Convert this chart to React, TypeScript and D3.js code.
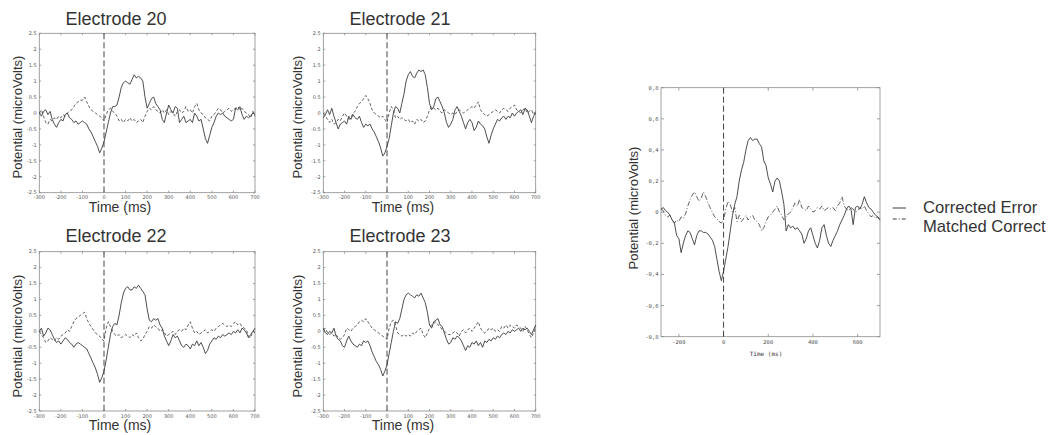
import React from "react";
import * as d3 from "d3";

// ---------- data ----------
const TIMES_SMALL = d3.range(-300, 701, 10);
const TIMES_BIG = d3.range(-280, 701, 10);

const SMALL_X_TICKS = [-300, -200, -100, 0, 100, 200, 300, 400, 500, 600, 700];
const SMALL_Y_TICKS = [-2.5, -2, -1.5, -1, -0.5, 0, 0.5, 1, 1.5, 2, 2.5];
const BIG_X_TICKS = [-200, 0, 200, 400, 600];
const BIG_Y_TICKS = [-0.8, -0.6, -0.4, -0.2, 0, 0.2, 0.4, 0.6, 0.8];

const ELECTRODES = ["Electrode 20", "Electrode 21", "Electrode 22", "Electrode 23"];
const LEGEND = ["Corrected Error", "Matched Correct"];

const E20_CE = [
  0.0, -0.1, 0.05, 0.1, -0.05, 0.05, -0.2, -0.35, -0.45, -0.3,
  -0.2, -0.25, -0.05, 0.0, -0.15, -0.2, -0.3, -0.25, -0.35, -0.3,
  -0.25, -0.3, -0.35, -0.5, -0.6, -0.75, -0.9, -1.05, -1.25, -1.1,
  -0.9, -0.6, -0.3, 0.0, 0.2, 0.2, 0.25, 0.5, 0.8, 0.95,
  1.0, 0.95, 0.9, 1.05, 1.2, 1.1, 1.15, 1.1, 1.0, 0.5,
  0.15, 0.3, 0.45, 0.5, 0.3, 0.2, 0.1, -0.2, -0.3, 0.0,
  0.25, 0.1, 0.0, 0.2, 0.15, -0.3, -0.2, -0.1, -0.3, -0.25,
  -0.2, -0.3, 0.0, -0.1, -0.25, -0.2, -0.5, -0.8, -0.95, -0.7,
  -0.45, -0.3, -0.1, 0.0, -0.05, 0.0, -0.1, -0.15, -0.2, -0.25,
  -0.2, 0.15, 0.1, 0.2, -0.05, -0.2, -0.1, -0.15, -0.1, 0.0,
  -0.05,
];
const E20_MC = [
  0.0, 0.1, -0.1, -0.3, -0.35, -0.2, -0.25, -0.15, -0.2, -0.1,
  -0.15, -0.05, -0.1, 0.0, 0.05, 0.1, 0.2, 0.3, 0.35, 0.4,
  0.4, 0.5, 0.35, 0.2, 0.1, 0.05, 0.0, -0.05, -0.1, -0.15,
  -0.25, -0.05, 0.1, 0.15, 0.05, 0.0, -0.1, -0.25, -0.2, -0.3,
  -0.2, -0.25, -0.15, -0.25, -0.2, -0.3, -0.25, -0.2, -0.3, -0.1,
  0.05, 0.15, 0.1, 0.2, 0.1, 0.05, 0.0, 0.1, 0.0, 0.1,
  -0.05, 0.05, 0.0, -0.1, 0.05, 0.1, 0.0, 0.05, 0.2, 0.05,
  0.1, 0.0, 0.2, 0.3, 0.1, 0.0, -0.05, -0.15, -0.2, -0.25,
  -0.1, -0.05, 0.05, 0.15, 0.1, 0.0, 0.05, 0.1, 0.15, 0.05,
  0.1, 0.15, 0.2, 0.1, 0.15, 0.05, 0.0, -0.05, -0.15, 0.05,
  -0.1,
];
const E21_CE = [
  -0.15, -0.05, 0.1, -0.05, 0.15, -0.1, -0.3, -0.5, -0.35, -0.3,
  -0.25, -0.35, -0.1, -0.2, -0.05, -0.15, -0.2, -0.1, -0.3, -0.45,
  -0.35, -0.4, -0.35, -0.5, -0.6, -0.75, -0.9, -1.1, -1.35, -1.25,
  -1.05, -0.8, -0.4, 0.0, 0.2, 0.15, 0.0, 0.3, 0.6, 1.0,
  1.2, 1.3, 1.15, 1.1, 1.25, 1.35, 1.3, 1.35, 1.2, 0.8,
  0.3, 0.1, 0.2, 0.45, 0.5, 0.35, 0.2, 0.0, -0.3, -0.45,
  -0.35, -0.2, 0.1, 0.2, 0.05, -0.1, -0.3, -0.5, -0.3, -0.2,
  -0.3, -0.55, -0.45, -0.25, -0.35, -0.4, -0.5, -0.75, -0.95, -0.7,
  -0.5, -0.35, -0.2, -0.25, -0.15, -0.1, -0.2, -0.1, -0.15, 0.0,
  -0.1, 0.0, 0.05, 0.1, -0.05, 0.15, 0.1, -0.1, -0.3, -0.1,
  0.0,
];
const E21_MC = [
  0.0, -0.1, -0.2, -0.3, -0.2, -0.35, -0.3, -0.2, -0.25, -0.1,
  0.0, -0.1, -0.2, -0.15, 0.0, 0.05, 0.2, 0.3, 0.35, 0.45,
  0.55, 0.45, 0.3, 0.1, 0.0, -0.05, -0.1, -0.15, -0.1, -0.2,
  -0.3, 0.0, 0.2, 0.1, -0.15, -0.1, -0.2, -0.15, -0.2, -0.25,
  -0.2, -0.3, -0.25, -0.35, -0.2, -0.25, -0.2, -0.3, -0.25, -0.1,
  0.1, 0.2, 0.15, 0.1, 0.15, 0.05, 0.0, 0.1, 0.05, 0.0,
  -0.05, 0.0, -0.05, 0.05, 0.1, 0.05, 0.0, 0.05, 0.1, 0.15,
  0.2, 0.15, 0.25, 0.35, 0.1, 0.0, -0.05, -0.1, -0.05, 0.0,
  0.05, 0.1, 0.05, 0.0, 0.1, 0.15, 0.1, 0.05, 0.15, 0.2,
  0.25, 0.1, 0.05, 0.0, 0.1, 0.15, 0.0, 0.05, 0.1, -0.05,
  0.05,
];
const E22_CE = [
  0.0, 0.1, -0.15, -0.05, 0.1, 0.05, -0.1, -0.25, -0.35, -0.3,
  -0.4, -0.3, -0.2, -0.25, -0.35, -0.4, -0.5, -0.4, -0.35, -0.4,
  -0.45, -0.5, -0.55, -0.7, -0.85, -1.0, -1.15, -1.35, -1.6, -1.45,
  -1.25, -0.9, -0.5, -0.1, 0.15, 0.25, 0.2, 0.5, 0.9, 1.2,
  1.35, 1.4, 1.3, 1.3, 1.4, 1.35, 1.45, 1.35, 1.25, 1.15,
  0.7, 0.35, 0.3, 0.4, 0.35, 0.4, 0.2, 0.1, -0.15, -0.3,
  -0.45, -0.3, -0.1, -0.2, -0.15, -0.3, -0.45, -0.5, -0.4, -0.45,
  -0.55, -0.4, -0.45, -0.3, -0.45, -0.35, -0.5, -0.7, -0.6, -0.4,
  -0.3, -0.2, -0.25, -0.15, -0.2, -0.1, -0.15, -0.1, -0.05, -0.1,
  0.0, -0.05, 0.05, -0.05, 0.1, 0.05, -0.05, -0.2, -0.1, 0.0,
  0.1,
];
const E22_MC = [
  0.0, -0.1, -0.2, -0.35, -0.3, -0.2, -0.25, -0.3, -0.2, -0.25,
  -0.15, -0.1, -0.05, 0.05, 0.0, 0.15, 0.3, 0.4, 0.45, 0.5,
  0.55, 0.6, 0.4, 0.25, 0.15, 0.05, -0.05, -0.1, -0.15, -0.25,
  -0.3, 0.1, 0.3, 0.15, 0.0, -0.1, -0.15, -0.1, -0.2, -0.15,
  -0.1, -0.15, -0.2, -0.1, -0.15, -0.05, -0.2, -0.3, -0.25, -0.1,
  0.0, 0.15, 0.1, 0.2, 0.15, 0.1, 0.0, 0.05, -0.05, -0.15,
  -0.1, -0.05, 0.0, -0.1, 0.0, 0.05, 0.0, 0.1, 0.05, 0.2,
  0.3, 0.1, -0.05, 0.0, -0.1, -0.05, 0.0, 0.05, -0.05, 0.0,
  0.05, 0.0, 0.1, 0.15, 0.2, 0.25, 0.2, 0.15, 0.2, 0.15,
  0.25, 0.3, 0.2, 0.25, 0.15, 0.1, 0.05, -0.15, -0.2, 0.0,
  -0.05,
];
const E23_CE = [
  0.1, -0.05, -0.1, 0.0, -0.05, 0.1, -0.15, -0.25, -0.3, -0.45,
  -0.5, -0.3, -0.15, -0.3, -0.4, -0.45, -0.5, -0.4, -0.45, -0.3,
  -0.35, -0.3, -0.45, -0.65, -0.8, -0.95, -1.05, -1.2, -1.4, -1.25,
  -1.05, -0.7, -0.35, 0.0, 0.3, 0.25, 0.4, 0.7, 1.0, 1.15,
  1.2, 1.15, 1.1, 1.05, 1.15, 1.1, 1.2, 1.05, 0.9, 0.6,
  0.2, 0.1, 0.3, 0.35, 0.4, 0.2, 0.15, -0.05, -0.25, -0.4,
  -0.35, -0.2, -0.25, -0.15, -0.2, -0.3, -0.45, -0.6, -0.45, -0.5,
  -0.35, -0.4, -0.3, -0.45, -0.35, -0.5, -0.3, -0.35, -0.25, -0.3,
  -0.2, -0.25, -0.15, -0.2, -0.1, -0.05, -0.1, 0.0, -0.05, 0.05,
  0.0, 0.05, 0.1, 0.0, 0.1, 0.05, 0.1, 0.0, -0.1, 0.05,
  0.2,
];
const E23_MC = [
  0.05, 0.1, -0.05, -0.1, -0.05, -0.15, -0.1, -0.2, -0.25, -0.2,
  -0.1, 0.1, 0.05, 0.0, 0.1, 0.15, 0.2, 0.3, 0.35, 0.3,
  0.4, 0.3, 0.2, 0.1, 0.05, 0.0, -0.05, -0.1, -0.15, -0.2,
  -0.25, 0.1, 0.3, 0.35, 0.2, -0.05, -0.1, -0.15, -0.1, -0.15,
  -0.1, -0.15, -0.05, -0.1, 0.0, 0.05, 0.1, -0.1, -0.2, -0.05,
  0.1, 0.2, 0.25, 0.3, 0.2, 0.15, 0.05, 0.0, -0.05, -0.1,
  -0.1, -0.05, 0.0, -0.05, -0.15, 0.0, 0.05, -0.05, 0.05, 0.1,
  0.0, 0.1, 0.2, 0.3, 0.1, 0.0, -0.05, 0.0, 0.1, 0.05,
  0.1, 0.0, 0.05, 0.0, 0.15, 0.1, 0.2, 0.1, 0.2, 0.15,
  0.1, 0.2, 0.15, 0.1, 0.0, 0.15, 0.05, -0.1, -0.2, -0.05,
  0.15,
];
const AVG_CE = [
  0.02, 0.03, 0.01, 0.0, -0.02, -0.05, -0.07, -0.15, -0.17,
  -0.26, -0.2, -0.15, -0.12, -0.13, -0.17, -0.21, -0.15, -0.12, -0.12,
  -0.13, -0.13, -0.14, -0.16, -0.18, -0.22, -0.3, -0.38, -0.44,
  -0.38, -0.3, -0.22, -0.12, -0.02, 0.05, 0.1, 0.2, 0.27, 0.32,
  0.4, 0.46, 0.48, 0.46, 0.47, 0.47, 0.44, 0.42, 0.33, 0.3,
  0.22, 0.18, 0.13, 0.2, 0.22, 0.2, 0.13, 0.05, -0.12, -0.08,
  -0.1, -0.09, -0.11, -0.1, -0.12, -0.14, -0.2, -0.17, -0.12, -0.1,
  -0.15, -0.2, -0.23, -0.18, -0.1, -0.08, -0.15, -0.2, -0.22, -0.18,
  -0.15, -0.12, -0.08, -0.05, -0.02, 0.02, 0.04, 0.02, -0.08, 0.03,
  0.04, 0.02, 0.05, 0.1, 0.06, 0.03, 0.02, 0.0, -0.02, -0.03,
  -0.05,
];
const AVG_MC = [
  0.02, 0.01, -0.02, -0.03, -0.02, -0.05, -0.07, -0.05, -0.06,
  -0.03, -0.04, -0.01, 0.04, 0.08, 0.11, 0.13, 0.1, 0.07, 0.09,
  0.13, 0.1, 0.06, 0.03, 0.0, -0.03, -0.04, -0.06, -0.07,
  -0.05, 0.02, 0.07, 0.05, 0.0, 0.03, -0.06, -0.02, -0.06, -0.04,
  -0.02, -0.05, -0.03, -0.02, -0.05, -0.06, -0.08, -0.12, -0.1, -0.06,
  -0.03, -0.02, 0.0, 0.02, 0.04, 0.0, -0.02, -0.05, -0.03, -0.01,
  0.0, 0.03, 0.06, 0.04, 0.08, 0.03, 0.02, 0.01, 0.04, 0.02,
  0.0, 0.01, 0.03, 0.02, 0.04, 0.01, 0.02, 0.03, 0.02, 0.03,
  0.01, 0.04, 0.06, 0.1, 0.04, 0.02, 0.01, 0.03, 0.02, 0.0,
  0.01, 0.03, 0.02, 0.04, 0.01, -0.01, -0.03, -0.02, -0.04, -0.03,
  -0.05,
];

const SMALL_CE = [E20_CE, E21_CE, E22_CE, E23_CE];
const SMALL_MC = [E20_MC, E21_MC, E22_MC, E23_MC];

// ---------- drawing ----------
const LINE = "#3a3a3a";
const AXIS = "#8a8a8a";
const TICKTXT = "#555";
const SANS = "'Liberation Sans', Arial, sans-serif";

type PanelProps = {
  x0: number; x1: number; y0: number; y1: number;
  xDomain: [number, number]; yDomain: [number, number];
  times: number[]; ce: number[]; mc: number[];
  xTicks: number[]; yTicks: number[];
  fmt: (v: number) => string;
  mcDash: string; tickFont: string; tickSize: number; tickLen: number;
};

function Plot(p: PanelProps) {
  const x = d3.scaleLinear().domain(p.xDomain).range([p.x0, p.x1]);
  const y = d3.scaleLinear().domain(p.yDomain).range([p.y1, p.y0]);
  const line = d3
    .line<number>()
    .x((_, i) => x(p.times[i]))
    .y((d) => y(d));
  const t = p.tickLen;
  return (
    <g>
      <rect x={p.x0} y={p.y0} width={p.x1 - p.x0} height={p.y1 - p.y0} fill="white" stroke={AXIS} strokeWidth={0.8} />
      {p.xTicks.map((v) => (
        <g key={"xt" + v}>
          <line x1={x(v)} x2={x(v)} y1={p.y1} y2={p.y1 - t} stroke={AXIS} strokeWidth={0.8} />
          <line x1={x(v)} x2={x(v)} y1={p.y0} y2={p.y0 + t} stroke={AXIS} strokeWidth={0.8} />
          <text x={x(v)} y={p.y1 + p.tickSize + 1.5} textAnchor="middle" fontSize={p.tickSize} fontFamily={p.tickFont} fill={TICKTXT}>
            {p.fmt(v)}
          </text>
        </g>
      ))}
      {p.yTicks.map((v) => (
        <g key={"yt" + v}>
          <line x1={p.x0} x2={p.x0 + t} y1={y(v)} y2={y(v)} stroke={AXIS} strokeWidth={0.8} />
          <line x1={p.x1} x2={p.x1 - t} y1={y(v)} y2={y(v)} stroke={AXIS} strokeWidth={0.8} />
          <text x={p.x0 - 2.5} y={y(v) + p.tickSize * 0.35} textAnchor="end" fontSize={p.tickSize} fontFamily={p.tickFont} fill={TICKTXT}>
            {p.fmt(v)}
          </text>
        </g>
      ))}
      <line x1={x(0)} x2={x(0)} y1={p.y0} y2={p.y1} stroke="#444" strokeWidth={1} strokeDasharray="6,3" />
      <path d={line(p.mc) || ""} fill="none" stroke={LINE} strokeWidth={0.8} strokeDasharray={p.mcDash} />
      <path d={line(p.ce) || ""} fill="none" stroke={LINE} strokeWidth={0.9} />
    </g>
  );
}

const SMALL_LAYOUT = [
  { x0: 39.3, x1: 255, y0: 33.3, y1: 192.7, tx: 116, ty: 25, lx: 120, ly: 212, yx: 17, yy: 117 },
  { x0: 323.3, x1: 535.7, y0: 33.3, y1: 192.7, tx: 400, ty: 25, lx: 403, ly: 212, yx: 297, yy: 117 },
  { x0: 39.3, x1: 255, y0: 251.7, y1: 411, tx: 116, ty: 242, lx: 120, ly: 430, yx: 17, yy: 336 },
  { x0: 323.3, x1: 535.7, y0: 251.7, y1: 411, tx: 400, ty: 242, lx: 403, ly: 430, yx: 297, yy: 336 },
];

const fmtDot = (v: number) => String(Math.round(v * 10) / 10);
const fmtComma = (v: number) => String(Math.round(v * 10) / 10).replace(".", ",");

export default function App() {
  const big = { x0: 661, x1: 880, y0: 87.7, y1: 336.7 };
  return (
    <svg width={1058} height={435} style={{ position: "absolute", left: 0, top: 0, background: "white" }}>
      <rect width={1058} height={435} fill="white" />
      {SMALL_LAYOUT.map((L, i) => (
        <g key={i}>
          <Plot
            x0={L.x0} x1={L.x1} y0={L.y0} y1={L.y1}
            xDomain={[-300, 700]} yDomain={[-2.5, 2.5]}
            times={TIMES_SMALL} ce={SMALL_CE[i]} mc={SMALL_MC[i]}
            xTicks={SMALL_X_TICKS} yTicks={SMALL_Y_TICKS}
            fmt={fmtDot} mcDash="3,2" tickFont="'DejaVu Sans', sans-serif" tickSize={5} tickLen={2}
          />
          <text x={L.tx} y={L.ty} textAnchor="middle" fontSize={18} fontFamily={SANS} fill="#333">
            {ELECTRODES[i]}
          </text>
          <text x={L.lx} y={L.ly} textAnchor="middle" fontSize={14} fontFamily={SANS} fill="#333">
            Time (ms)
          </text>
          <text transform={`translate(${L.yx + 4.5},${L.yy}) rotate(-90)`} textAnchor="middle" fontSize={13} fontFamily={SANS} fill="#333">
            Potential (microVolts)
          </text>
        </g>
      ))}
      <Plot
        x0={big.x0} x1={big.x1} y0={big.y0} y1={big.y1}
        xDomain={[-280, 700]} yDomain={[-0.8, 0.8]}
        times={TIMES_BIG} ce={AVG_CE} mc={AVG_MC}
        xTicks={BIG_X_TICKS} yTicks={BIG_Y_TICKS}
        fmt={fmtComma} mcDash="5,2,1,2" tickFont="'DejaVu Sans Mono', monospace" tickSize={5.5} tickLen={3}
      />
      <text x={766} y={356} textAnchor="middle" fontSize={6} fontFamily="'DejaVu Sans Mono', monospace" fill="#333">
        Time (ms)
      </text>
      <text transform={`translate(637.5,208) rotate(-90)`} textAnchor="middle" fontSize={13} fontFamily={SANS} fill="#333">
        Potential (microVolts)
      </text>
      <line x1={892.7} x2={906} y1={208} y2={208} stroke={LINE} strokeWidth={1} />
      <line x1={892.7} x2={906} y1={219} y2={219} stroke={LINE} strokeWidth={1} strokeDasharray="4,2,1,2" />
      <text x={923} y={212.7} fontSize={16.6} fontFamily={SANS} fill="#333">{LEGEND[0]}</text>
      <text x={923} y={231.7} fontSize={16.6} fontFamily={SANS} fill="#333">{LEGEND[1]}</text>
    </svg>
  );
}
